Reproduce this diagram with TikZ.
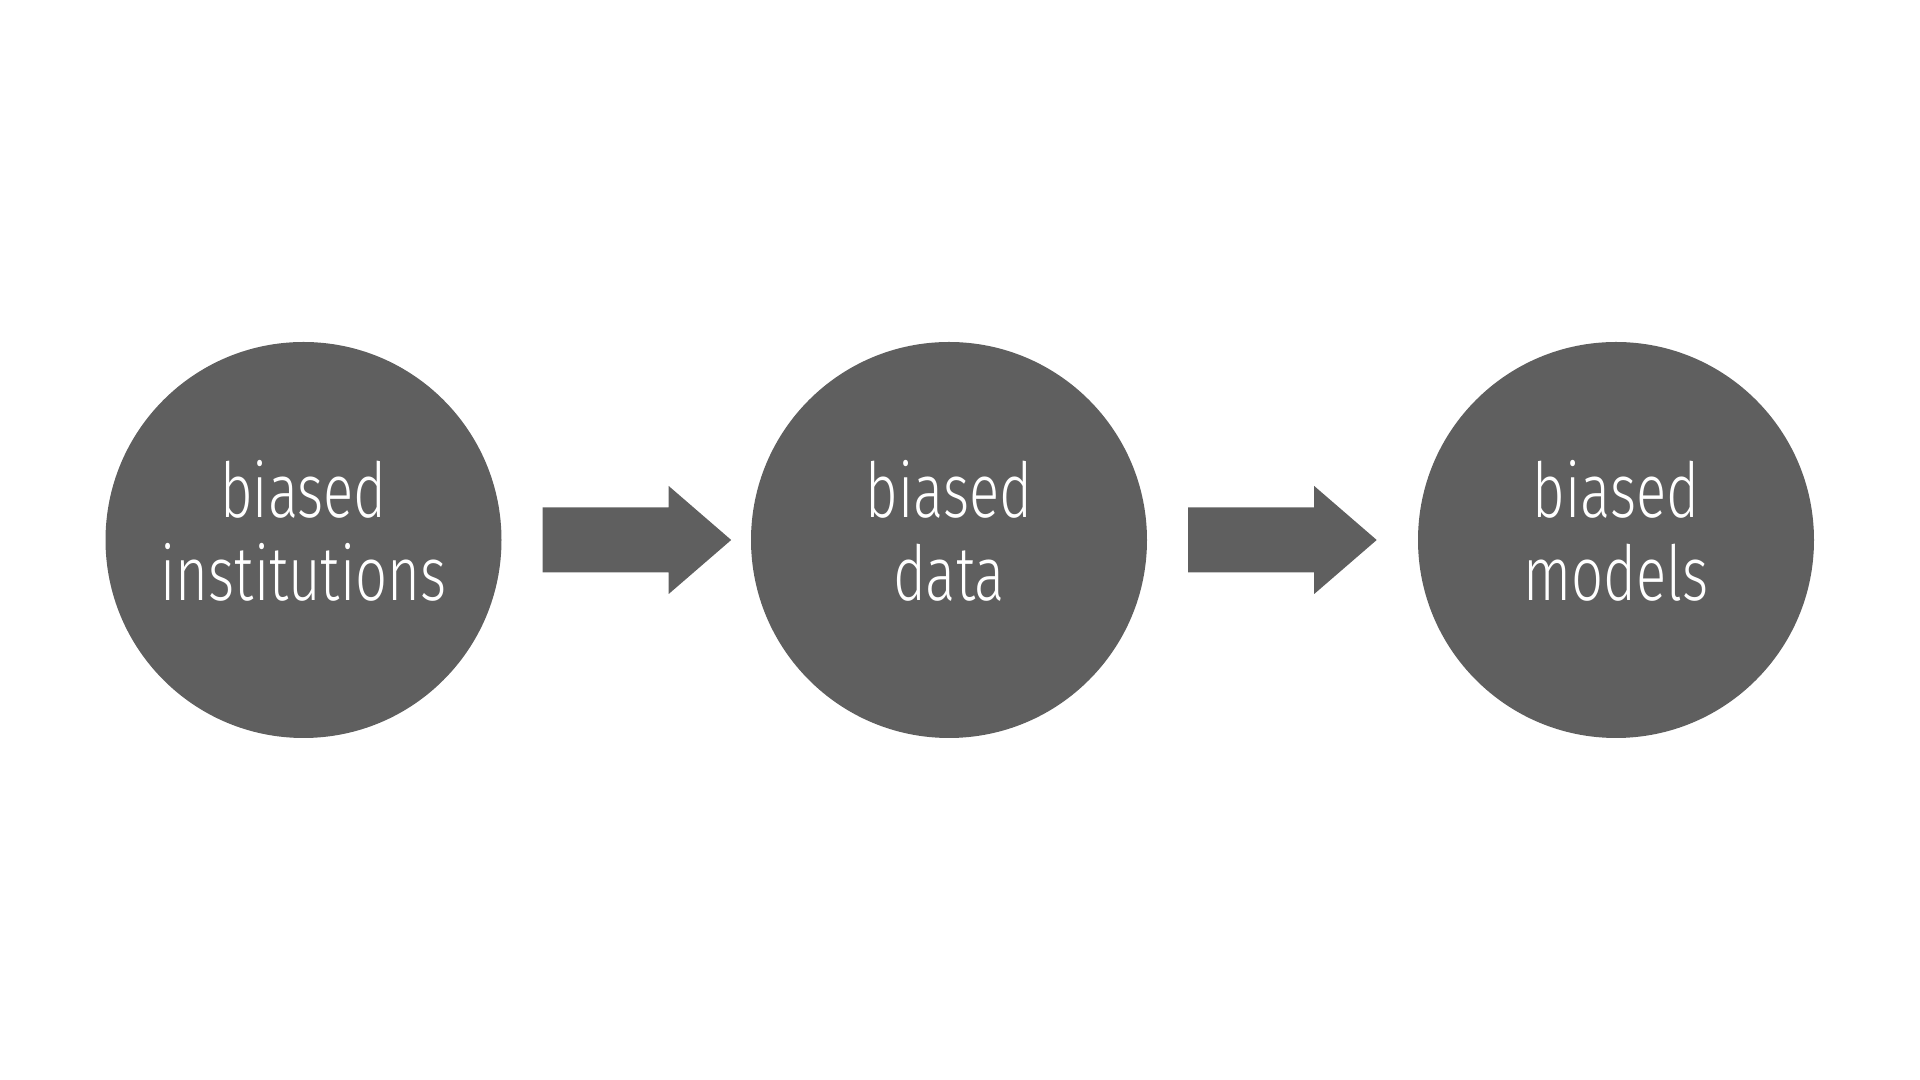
\documentclass[tikz,border=0pt]{standalone}
\usepackage{fontspec}
\setmainfont{Fira Sans Light}[FakeStretch=0.74]
\usetikzlibrary{calc}
\definecolor{blobgrey}{RGB}{95,95,95}
\tikzset{
  blob/.style={circle, fill=blobgrey, draw=none, minimum size=396*0.01cm, inner sep=0pt},
  lbl/.style={text=white, align=center, font=\fontsize{21.6pt}{23.6pt}\selectfont, inner sep=0pt},
  blockarrow/.style={fill=blobgrey, draw=none}
}
\begin{document}
\begin{tikzpicture}[x=0.01cm,y=-0.01cm]
\useasboundingbox (0,0) rectangle (1920,1080);
\node[blob] (a) at (303.5,540) {};
\node[blob] (b) at (949,540) {};
\node[blob] (c) at (1616,540) {};
\node[lbl] (ta) at ($(a.center)+(0,-9)$) {biased\\institutions};
\node[lbl] (tb) at ($(b.center)+(0,-9)$) {biased\\data};
\node[lbl] (tc) at ($(c.center)+(0,-9)$) {biased\\models};
\coordinate (a1) at ($(a.east)+(40.5,0)$);
\coordinate (b1) at ($(b.east)+(40.5,0)$);
\foreach \s in {a1,b1}{
  \fill[blockarrow] ($(\s)+(0,-32.5)$) -- ++(126,0) -- ++(0,-21.5) -- ++(62.5,54) -- ++(-62.5,54) -- ++(0,-21.5) -- ++(-126,0) -- cycle;
}
\end{tikzpicture}
\end{document}
